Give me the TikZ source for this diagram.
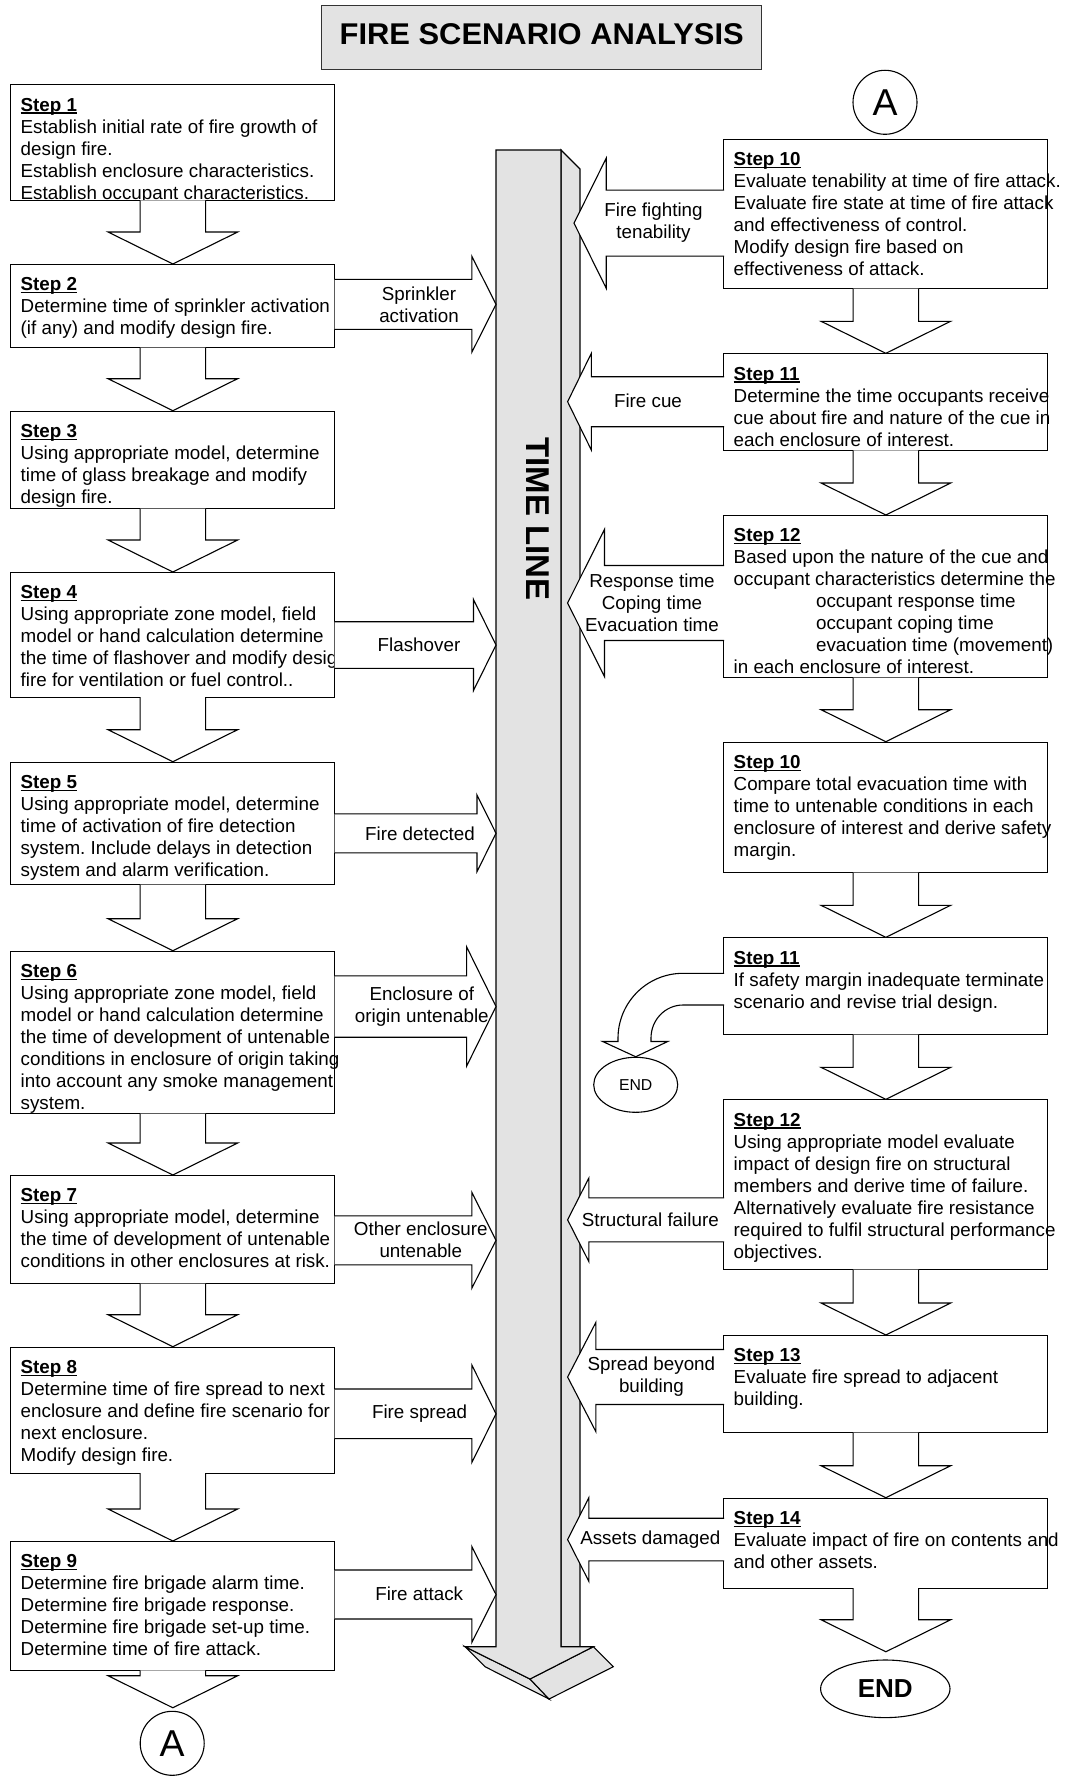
\documentclass[tikz,border=0pt]{standalone}
\usepackage{fontspec}
\setmainfont{Liberation Sans}
\usepackage{graphicx}
\usetikzlibrary{shapes.geometric,calc}
\definecolor{tlgray}{gray}{0.89}
\newcommand\bodyfont{\fontsize{9.4pt}{11pt}\selectfont\frenchspacing}
\newcommand\stepul[1]{\setbox0\hbox{#1}\rlap{\rule[-1.25pt]{\wd0}{0.55pt}}\box0}
% box with its text: name, x, ytop, height(pt), title, body
\newcommand\StepBox[6]{%
  \node[stepbox, minimum height=#4pt] (#1) at (#2,#3) {};
  \node[steptext] (#1t) at ([xshift=5pt,yshift=-6.6pt]#1.north west) {\stepul{\textbf{#5}}\\#6};
}
% downward block arrow: from, to, extra gap above target
\newcommand\DArr[3]{%
  \path[blockarrow] let \p1=(#1.south), \p2=(#2.north) in
    (\x1-16.4pt,\y1+0.4pt) -- (\x1-16.4pt,\y2+#3+16pt) -- (\x1-32.4pt,\y2+#3+16pt)
    -- (\x1,\y2+#3) -- (\x1+32.4pt,\y2+#3+16pt) -- (\x1+16.4pt,\y2+#3+16pt)
    -- (\x1+16.4pt,\y1+0.4pt);
}
% rightward block arrow: from box, to coordinate, yc, shaft half, head half, base x
\newcommand\RArr[6]{%
  \path[blockarrow] let \p1=(#1.east), \p2=(#2) in
    (\x1-0.4pt,#3-#4) -- (#6,#3-#4) -- (#6,#3-#5) -- (\x2,#3)
    -- (#6,#3+#5) -- (#6,#3+#4) -- (\x1-0.4pt,#3+#4);
}
% leftward block arrow
\newcommand\LArr[6]{%
  \path[blockarrow] let \p1=(#1.west), \p2=(#2) in
    (\x1+0.4pt,#3-#4) -- (#6,#3-#4) -- (#6,#3-#5) -- (\x2,#3)
    -- (#6,#3+#5) -- (#6,#3+#4) -- (\x1+0.4pt,#3+#4);
}
\begin{document}
\begin{tikzpicture}[x=0.5pt,y=-0.5pt,
  stepbox/.style={draw=black, line width=0.55pt, fill=white, rectangle,
    minimum width=162pt, inner sep=0pt, anchor=north west},
  steptext/.style={font=\bodyfont, align=left, inner sep=0pt, anchor=north west},
  blockarrow/.style={draw=black, fill=white, line width=0.55pt, line join=miter},
  lbl/.style={font=\bodyfont, align=center, inner sep=0pt},
  tlface/.style={draw=black, fill=tlgray, line width=0.55pt, line join=miter},
  titlebox/.style={draw=black!80, fill=tlgray, line width=0.55pt, minimum width=220pt,
    minimum height=31.8pt, inner sep=0pt, text depth=3.3pt,
    font=\bfseries\fontsize{15pt}{17pt}\selectfont},
  circA/.style={draw, circle, minimum size=32pt, inner sep=0pt, line width=0.55pt,
    font=\fontsize{18.7pt}{20pt}\selectfont},
  endbig/.style={draw, ellipse, minimum width=64.7pt, minimum height=28.8pt, inner sep=0pt,
    line width=0.55pt, font=\bfseries\fontsize{13pt}{15pt}\selectfont},
  endsmall/.style={draw, ellipse, minimum width=42pt, minimum height=27.5pt, inner sep=0pt,
    line width=0.55pt, font=\fontsize{7.9pt}{9pt}\selectfont}
]
\useasboundingbox (0,0) rectangle (1065,1776);

% title
\node[titlebox] (title) at (541.7,37.5) {\scalebox{1.03}[1]{FIRE SCENARIO ANALYSIS}};

% time line (3D arrow)
\coordinate (tlL) at (496,0);
\coordinate (tlR) at (567.6,0);
\coordinate (tlR2) at (574,0);
\filldraw[tlface] (561,150) -- (580,169) -- (580,1646.7) -- (561,1646.7) -- cycle;
\filldraw[tlface] (465,1646.7) -- (485,1666.7) -- (549,1699) -- (530,1679) -- cycle;
\filldraw[tlface] (530,1679) -- (549,1699) -- (613.3,1666.7) -- (593.3,1646.7) -- cycle;
\filldraw[tlface] (496,150) -- (561,150) -- (561,1646.7) -- (593.3,1646.7) -- (530,1679)
   -- (465,1646.7) -- (496,1646.7) -- cycle;
\node[rotate=-90, font=\bfseries\fontsize{16.5pt}{18pt}\selectfont, inner sep=0pt] (tltext) at (537.5,519) {TIME LINE};

% left column
\StepBox{s1}{10.3}{84.3}{57.85}{Step 1}{Establish initial rate of fire growth of\\design fire.\\Establish enclosure characteristics.\\Establish occupant characteristics.}
\StepBox{s2}{10.3}{264}{41.65}{Step 2}{Determine time of sprinkler activation\\(if any) and modify design fire.}
\StepBox{s3}{10.3}{410.7}{48.8}{Step 3}{Using appropriate model, determine\\time of glass breakage and modify\\design fire.}
\StepBox{s4}{10.3}{572}{62.35}{Step 4}{Using appropriate zone model, field\\model or hand calculation determine\\the time of flashover and modify design\\fire for ventilation or fuel control..}
\StepBox{s5}{10.3}{761.7}{61.3}{Step 5}{Using appropriate model, determine\\time of activation of fire detection\\system. Include delays in detection\\system and alarm verification.}
\StepBox{s6}{10.3}{950.7}{81.3}{Step 6}{Using appropriate zone model, field\\model or hand calculation determine\\the time of development of untenable\\conditions in enclosure of origin taking\\into account any smoke management\\system.}
\StepBox{s7}{10.3}{1175}{54.15}{Step 7}{Using appropriate model, determine\\the time of development of untenable\\conditions in other enclosures at risk.}
\StepBox{s8}{10.3}{1346.7}{63}{Step 8}{Determine time of fire spread to next\\enclosure and define fire scenario for\\next enclosure.\\Modify design fire.}
\StepBox{s9}{10.3}{1541}{64.5}{Step 9}{Determine fire brigade alarm time.\\Determine fire brigade response.\\Determine fire brigade set-up time.\\Determine time of fire attack.}

% right column
\StepBox{s10}{723.3}{138.7}{74.8}{Step 10}{Evaluate tenability at time of fire attack.\\Evaluate fire state at time of fire attack\\and effectiveness of control.\\Modify design fire based on\\effectiveness of attack.}
\StepBox{s11}{723.3}{353.3}{48.35}{Step 11}{Determine the time occupants receive\\cue about fire and nature of the cue in\\each enclosure of interest.}
\StepBox{s12}{723.3}{515}{81.15}{Step 12}{Based upon the nature of the cue and\\occupant characteristics determine the\\\hspace*{41.2pt}occupant response time\\\hspace*{41.2pt}occupant coping time\\\hspace*{41.2pt}evacuation time (movement)\\in each enclosure of interest.}
\StepBox{s10b}{723.3}{741.7}{65.3}{Step 10}{Compare total evacuation time with\\time to untenable conditions in each\\enclosure of interest and derive safety\\margin.}
\StepBox{s11b}{723.3}{937.3}{48.5}{Step 11}{If safety margin inadequate terminate\\scenario and revise trial design.}
\StepBox{s12b}{723.3}{1099.3}{85}{Step 12}{Using appropriate model evaluate\\impact of design fire on structural\\members and derive time of failure.\\Alternatively evaluate fire resistance\\required to fulfil structural performance\\objectives.}
\StepBox{s13}{723.3}{1335}{48.65}{Step 13}{Evaluate fire spread to adjacent\\building.}
\StepBox{s14}{723.3}{1497.7}{45}{Step 14}{Evaluate impact of fire on contents and\\and other assets.}

% connectors A / END
\node[circA] (A2) at (885,102.3) {A};
\node[circA] (A1) at (172.2,1743.3) {A};
\node[endbig] (endB) at (885.3,1688.8) {END};
\node[endsmall] (endS) at (635.7,1084.8) {END};

% down arrows
\DArr{s1}{s2}{0pt}
\DArr{s2}{s3}{0pt}
\DArr{s3}{s4}{0pt}
\DArr{s4}{s5}{0pt}
\DArr{s5}{s6}{0pt}
\DArr{s6}{s7}{0pt}
\DArr{s7}{s8}{0pt}
\DArr{s8}{s9}{0pt}
\DArr{s9}{A1}{1.5pt}
\DArr{s10}{s11}{0pt}
\DArr{s11}{s12}{0pt}
\DArr{s12}{s10b}{0pt}
\DArr{s10b}{s11b}{0pt}
\DArr{s11b}{s12b}{0pt}
\DArr{s12b}{s13}{0pt}
\DArr{s13}{s14}{0pt}
\DArr{s14}{endB}{3.85pt}

% arrows to the time line
\RArr{s2}{tlL}{304.3}{25}{48}{471.8}
\RArr{s4}{tlL}{645}{23.3}{45.5}{473.5}
\RArr{s5}{tlL}{833.3}{19.5}{38.3}{477}
\RArr{s6}{tlL}{1006.5}{30.7}{59.7}{466.6}
\RArr{s7}{tlL}{1240.3}{24.5}{48}{471.8}
\RArr{s8}{tlL}{1413.8}{24.8}{48.8}{471.8}
\RArr{s9}{tlL}{1594.5}{24.5}{48}{471.8}
\LArr{s10}{tlR2}{223.2}{33}{65}{606.2}
\LArr{s11}{tlR}{401.7}{25}{48.3}{591.3}
\LArr{s12}{tlR}{603}{37.5}{73.7}{604.5}
\LArr{s12b}{tlR}{1219.8}{22}{41.7}{588.8}
\LArr{s13}{tlR}{1377}{27.5}{54.5}{595.8}
\LArr{s14}{tlR}{1539.5}{21.3}{41.7}{588.8}

% curved arrow to END
\path[blockarrow] let \p1=(s11b.west) in
  (\x1+0.4pt,973.3) -- (683,973.3) .. controls (647.1,973.3) and (618,1002.4) .. (618,1038.3)
  -- (618,1041.5) -- (602.7,1041.5) -- (endS.north) -- (667.7,1041.5) -- (651,1041.5)
  -- (651,1038) .. controls (651,1019.8) and (665.3,1005) .. (683,1005) -- (\x1+0.4pt,1005);

% arrow labels
\node[lbl] (l2) at (419,304.3) {Sprinkler\\activation};
\node[lbl] (l4) at (419,645) {Flashover};
\node[lbl] (l5) at (420,833.3) {Fire detected};
\node[lbl] (l6) at (421.8,1006.2) {Enclosure of\\origin untenable};
\node[lbl] (l7) at (420.8,1239.5) {Other enclosure\\untenable};
\node[lbl] (l8) at (419.6,1413.3) {Fire spread};
\node[lbl] (l9) at (419.2,1593.3) {Fire attack};
\node[lbl] (l10) at (653.5,222.5) {Fire fighting\\tenability};
\node[lbl] (l11) at (648,401) {Fire cue};
\node[lbl] (l12) at (652,602.3) {Response time\\Coping time\\Evacuation time};
\node[lbl] (l12b) at (650.3,1219.3) {Structural failure};
\node[lbl] (l13) at (651.4,1376.7) {Spread beyond\\building};
\node[lbl] (l14) at (650.3,1539.3) {Assets damaged};
\end{tikzpicture}
\end{document}
